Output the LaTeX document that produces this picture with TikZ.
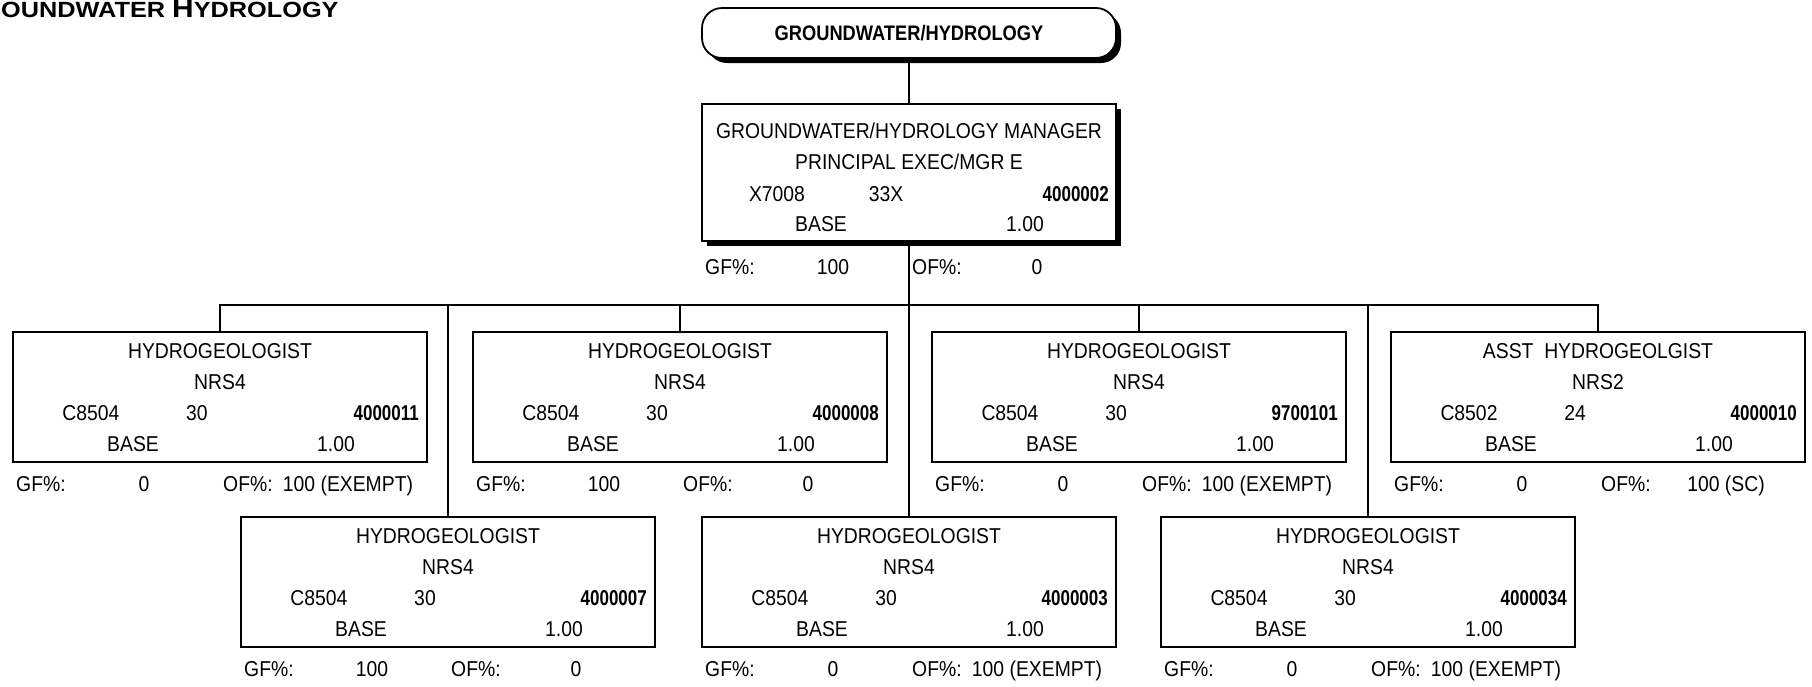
\documentclass[tikz,border=0pt]{standalone}
\usepackage{fontspec}
\setmainfont[FakeStretch=0.9]{Liberation Sans}
\newfontfamily\numfont[FakeStretch=0.79]{Liberation Sans}
\newfontfamily\headfont[FakeStretch=0.87]{Liberation Sans}
\newfontfamily\titlefont[FakeStretch=1.15]{Liberation Sans}
\usetikzlibrary{shadows}

\tikzset{
  posbox/.style={draw, line width=1.8pt, minimum width=414pt, minimum height=130pt,
    inner sep=0pt, fill=white},
  mgrbox/.style={posbox, minimum height=137pt,
    drop shadow={shadow xshift=5pt, shadow yshift=-5pt, opacity=1, fill=black}},
  unitbox/.style={draw, line width=1.8pt, rounded corners=20pt, minimum width=414pt,
    minimum height=50pt, inner sep=0pt, fill=white,
    text height=15pt, text depth=0pt,
    font=\fontsize{21}{24}\selectfont\headfont\bfseries,
    drop shadow={shadow xshift=5pt, shadow yshift=-5pt, opacity=1, fill=black}},
  lbl/.style={inner sep=0pt, text height=15pt, text depth=0pt,
    font=\fontsize{21.5}{24}\selectfont},
  numlbl/.style={lbl, font=\fontsize{21.5}{24}\selectfont\numfont\bfseries},
  link/.style={line width=1.5pt},
}

% position box: name, centre x, top y, title, grade, class code, range, position number
\newcommand\posbox[8]{%
  \node[posbox] (#1) at (#2,#3+65) {};
  \node[lbl] (#1-title) at (#2,#3+19) {#4};
  \node[lbl] (#1-grade) at (#2,#3+50) {#5};
  \node[lbl] (#1-code) at (#2-129,#3+81) {#6};
  \node[lbl] (#1-range) at (#2-23,#3+81) {#7};
  \node[numlbl, anchor=east] (#1-num) at (#2+199,#3+81) {#8};
  \node[lbl] (#1-base) at (#2-87,#3+112) {BASE};
  \node[lbl] (#1-fte) at (#2+116,#3+112) {1.00};
}
% funding line under a box: name, centre x, y, GF value, OF value
\newcommand\fundrow[5]{%
  \node[lbl, anchor=west] (#1-gf) at (#2-204,#3) {GF\%:};
  \node[lbl] (#1-gfv) at (#2-76,#3) {#4};
  \node[lbl, anchor=west] (#1-of) at (#2+3,#3) {OF\%:};
  \node[lbl] (#1-ofv) at (#2+128,#3) {#5};
}

\begin{document}
\begin{tikzpicture}[x=1pt, y=-1pt]
\useasboundingbox (0,0) rectangle (1812,686);

% page heading
\node[anchor=base west, inner sep=0pt] (heading) at (1,17)
  {\titlefont\bfseries\fontsize{22}{24}\selectfont OUNDWATER {\fontsize{26}{28}\selectfont H}YDROLOGY};

% unit
\node[unitbox] (unit) at (909,33) {GROUNDWATER/HYDROLOGY};

% manager
\node[mgrbox] (mgr) at (909,172.5) {};
\node[lbl] (mgr-title) at (909,131) {GROUNDWATER/HYDROLOGY MANAGER};
\node[lbl] (mgr-grade) at (909,162) {PRINCIPAL EXEC/MGR E};
\node[lbl] (mgr-code) at (777,194) {X7008};
\node[lbl] (mgr-range) at (886,194) {33X};
\node[numlbl, anchor=east] (mgr-num) at (1109,194) {4000002};
\node[lbl] (mgr-base) at (821,224) {BASE};
\node[lbl] (mgr-fte) at (1025,224) {1.00};
\fundrow{mgr}{909}{267}{100}{0}

% first row of staff
\posbox{r1a}{220}{332}{HYDROGEOLOGIST}{NRS4}{C8504}{30}{4000011}
\fundrow{r1a}{220}{484}{0}{100 (EXEMPT)}
\posbox{r1b}{680}{332}{HYDROGEOLOGIST}{NRS4}{C8504}{30}{4000008}
\fundrow{r1b}{680}{484}{100}{0}
\posbox{r1c}{1139}{332}{HYDROGEOLOGIST}{NRS4}{C8504}{30}{9700101}
\fundrow{r1c}{1139}{484}{0}{100 (EXEMPT)}
\posbox{r1d}{1598}{332}{ASST\ \ HYDROGEOLGIST}{NRS2}{C8502}{24}{4000010}
\fundrow{r1d}{1598}{484}{0}{100 (SC)}

% second row of staff
\posbox{r2a}{448}{517}{HYDROGEOLOGIST}{NRS4}{C8504}{30}{4000007}
\fundrow{r2a}{448}{669}{100}{0}
\posbox{r2b}{909}{517}{HYDROGEOLOGIST}{NRS4}{C8504}{30}{4000003}
\fundrow{r2b}{909}{669}{0}{100 (EXEMPT)}
\posbox{r2c}{1368}{517}{HYDROGEOLOGIST}{NRS4}{C8504}{30}{4000034}
\fundrow{r2c}{1368}{669}{0}{100 (EXEMPT)}

% reporting lines
\coordinate (bus) at (909,305);
\draw[link] (unit.south) -- (mgr.north);
\draw[link] (mgr.south) -- (r2b.north);
\draw[link] (r1a.north) -- (r1a.north |- bus) -- (r1d.north |- bus) -- (r1d.north);
\foreach \n in {r1b,r1c,r2a,r2c}
  \draw[link] (\n.north) -- (\n.north |- bus);
\end{tikzpicture}
\end{document}
